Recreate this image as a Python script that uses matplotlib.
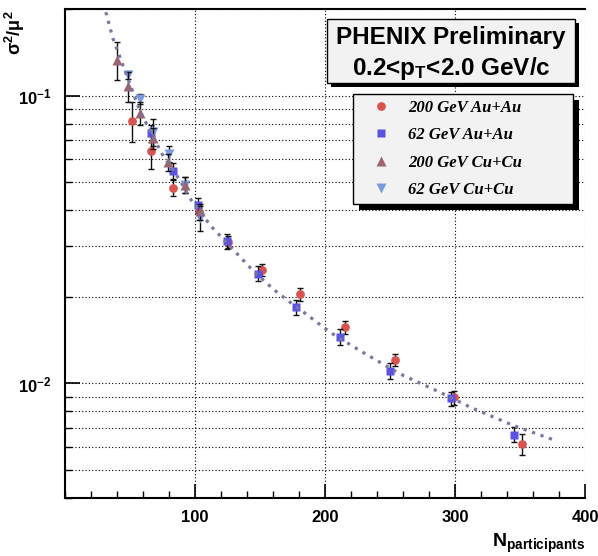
import numpy as np
import matplotlib
matplotlib.use("Agg")
import matplotlib.pyplot as plt
from matplotlib.patches import Rectangle
from matplotlib.ticker import LogLocator, NullFormatter, MultipleLocator
from matplotlib.transforms import IdentityTransform

plt.rcParams['font.family'] = ['Liberation Sans', 'DejaVu Sans']
plt.rcParams['font.weight'] = 'bold'
plt.rcParams['mathtext.fontset'] = 'custom'
plt.rcParams['mathtext.rm'] = 'Liberation Sans:bold'
plt.rcParams['mathtext.it'] = 'Liberation Sans:bold:italic'
plt.rcParams['mathtext.bf'] = 'Liberation Sans:bold'

# data
au200_n = [51.7, 65.8, 82.8, 103.1, 125.7, 151.4, 181.0, 215.1, 254.2, 299.2, 351.9]
au200_v = [0.0819, 0.0640, 0.0478, 0.0394, 0.0310, 0.0248, 0.0204, 0.0157, 0.01207, 0.00894, 0.00616]
au200_e = [0.013, 0.0085, 0.003, 0.0025, 0.0015, 0.0012, 0.0010, 0.0008, 0.0006, 0.0005, 0.0005]

au62_n = [65.8, 82.8, 102.5, 124.4, 148.8, 177.6, 211.3, 250.3, 297.1, 345.4]
au62_v = [0.0741, 0.0548, 0.0416, 0.0312, 0.0241, 0.0184, 0.01455, 0.01106, 0.00887, 0.00664]
au62_e = [0.005, 0.0035, 0.0025, 0.0019, 0.0014, 0.0011, 0.0009, 0.0007, 0.0005, 0.0004]

cu200_n = [40.1, 48.6, 57.6, 67.4, 79.4, 92.3, 103.9]
cu200_v = [0.133, 0.108, 0.0873, 0.0712, 0.0586, 0.0490, 0.0396]
cu200_e = [0.020, 0.013, 0.008, 0.006, 0.004, 0.003, 0.0025]

cu62_n = [48.1, 57.6, 67.9, 80.0, 92.3, 103.9]
cu62_v = [0.118, 0.0972, 0.0750, 0.0628, 0.0490, 0.0376]
cu62_e = [0.004, 0.004, 0.008, 0.004, 0.003, 0.0037]

fit_n = [31.4, 36.8, 57.6, 74.3, 88.4, 96.1, 112.3, 126.9, 145.0, 160.4, 173.5,
         182.3, 204.2, 227.2, 258.1, 288.9, 312.0, 345.4, 376.3]
fit_v = [0.195, 0.1585, 0.0885, 0.0631, 0.0508, 0.0440, 0.0352, 0.0300, 0.02455, 0.02123,
         0.0191, 0.01786, 0.01503, 0.01298, 0.01077, 0.0093, 0.00826, 0.00713, 0.00636]

series = [
    (au200_n, au200_v, au200_e, 'o', '#d9534f', 6.3, '200 GeV Au+Au'),
    (au62_n, au62_v, au62_e, 's', '#5a52e0', 5.8, '62 GeV Au+Au'),
    (cu62_n, cu62_v, cu62_e, 'v', '#7a9be0', 7.5, '62 GeV Cu+Cu'),
    (cu200_n, cu200_v, cu200_e, '^', '#9a6470', 7.5, '200 GeV Cu+Cu'),
]

fig = plt.figure(figsize=(5.98, 5.56), dpi=100)
ax = fig.add_axes([65/598, 1-498/556, 520/598, 489/556])

handles = {}
for i, (n, v, e, m, c, ms, lab) in enumerate(series):
    ax.errorbar(n, v, yerr=e, fmt='none', ecolor='#111111', elinewidth=1,
                capsize=2.5, capthick=1, zorder=2+2*i)
    h, = ax.plot(n, v, m, color=c, ms=ms, mec='none', zorder=3+2*i, label=lab)
    handles[lab] = h

# fit curve
ax.plot(fit_n, fit_v, color='#7878a0', lw=2.3, dashes=(1, 1.8),
        dash_capstyle='butt', zorder=20)

ax.set_yscale('log')
ax.set_xlim(0, 400)
ax.set_ylim(0.004, 0.2)
ax.set_yticks([0.01, 0.1], [r'$\mathrm{10^{-2}}$', r'$\mathrm{10^{-1}}$'])
ax.yaxis.set_minor_locator(LogLocator(base=10, subs=np.arange(2, 10)))
ax.yaxis.set_minor_formatter(NullFormatter())
ax.set_xticks([100, 200, 300, 400])
ax.xaxis.set_minor_locator(MultipleLocator(20))

ax.tick_params(axis='both', which='both', direction='in', top=False, right=False)
ax.tick_params(axis='y', which='major', length=11, width=1.2, pad=10, labelsize=12)
ax.tick_params(axis='y', which='minor', length=5, width=1)
ax.tick_params(axis='x', which='major', length=10, width=1.2, pad=9, labelsize=12)
ax.tick_params(axis='x', which='minor', length=5, width=1)

ax.grid(True, axis='y', which='both', color='black', lw=0.8, ls=(0, (1, 2)))
ax.grid(True, axis='x', which='major', color='black', lw=0.8, ls=(0, (1, 2)))
for s in ['left', 'bottom', 'top']:
    ax.spines[s].set_linewidth(1.5)
ax.spines['right'].set_visible(False)

fig.text(15/598, 1-33/556, r'$\mathrm{\sigma^{2}/\mu^{2}}$', rotation=90,
         ha='center', va='center', fontsize=13)
fig.text(585/598, 1/556, r'$\mathrm{N_{participants}}$', ha='right', va='bottom',
         fontsize=14)

# title box with shadow
sh = 4/598, 4/556
ax.add_patch(Rectangle((327/598 + sh[0], 1-83/556 - sh[1]), 248/598, 64/556,
                       transform=fig.transFigure, facecolor='black', edgecolor='none',
                       clip_on=False, zorder=30))
ax.add_patch(Rectangle((327/598, 1-83/556), 248/598, 64/556, transform=fig.transFigure,
                       facecolor='#f2f2f2', edgecolor='black', lw=1, clip_on=False, zorder=31))
fig.text(451/598, 1-44/556, 'PHENIX Preliminary', ha='center', va='baseline',
         fontsize=17.5, zorder=32)
fig.text(451/598, 1-75/556, r'0.2<p$_{\mathrm{T}}$<2.0 GeV/c', ha='center', va='baseline',
         fontsize=17.5, zorder=32)

order = ['200 GeV Au+Au', '62 GeV Au+Au', '200 GeV Cu+Cu', '62 GeV Cu+Cu']
leg = ax.legend([handles[k] for k in order], order, loc='upper left',
                bbox_to_anchor=(353/598, 1-216/556, 220/598, 122/556),
                bbox_transform=fig.transFigure, mode='expand', borderaxespad=0,
                borderpad=0.33, labelspacing=0.69, handlelength=2.7, handletextpad=0.27,
                fancybox=False, framealpha=1, facecolor='#f2f2f2', edgecolor='black',
                prop={'family': 'Liberation Serif', 'weight': 'bold', 'style': 'italic',
                      'size': 12})
leg.get_frame().set_linewidth(1)
leg.set_zorder(40)

fig.canvas.draw()
bb = leg.get_window_extent()
ax.add_patch(Rectangle((bb.x0 + 6, bb.y0 - 6), bb.width, bb.height,
                       transform=IdentityTransform(), facecolor='black', edgecolor='none',
                       clip_on=False, zorder=39))

fig.savefig('out.png', dpi=100)
